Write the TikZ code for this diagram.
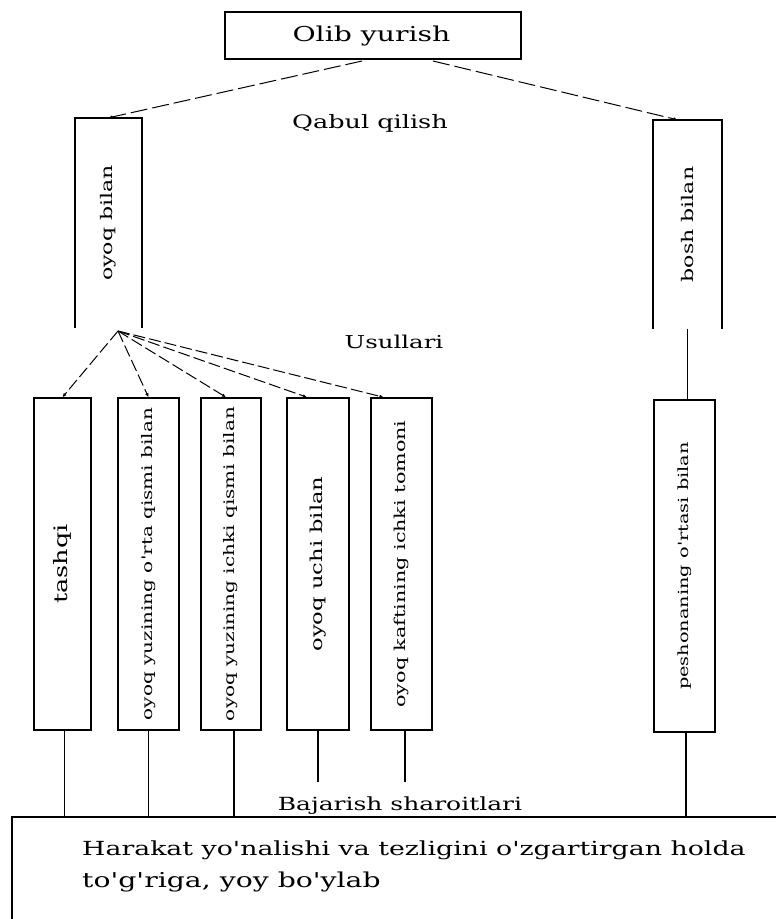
\documentclass[tikz,border=0pt]{standalone}
\usepackage{fontspec}
\setmainfont[FakeStretch=1.38, Ligatures=TeXOff]{DejaVu Serif}
\usetikzlibrary{arrows.meta}
\begin{document}
\begin{tikzpicture}[x=1pt,y=-1pt,
  boxline/.style={line width=1.6pt},
  frame/.style={draw, boxline, inner sep=0pt},
  openbox/.style={inner sep=0pt},
  toplabel/.style={font=\fontsize{19}{24}\selectfont, inner sep=0pt, anchor=base},
  dashlink/.style={line width=1pt, dash pattern=on 17pt off 5pt, -{Latex[length=4pt,width=3.5pt]}},
  fanlink/.style={line width=1pt, dash pattern=on 12pt off 4pt, -{Latex[length=4pt,width=3.5pt]}},
  solidlink/.style={line width=1.2pt}
]
\useasboundingbox (0,0) rectangle (776,919);
\clip (0,0) rectangle (776,919);

% top
\node[frame, minimum width=296pt, minimum height=47pt] (top) at (373,35.5) {};
\node[toplabel, font=\fontsize{20.5}{24}\selectfont] (toptxt) at (371.5,41) {Olib yurish};

% first level (open bottom)
\node[openbox, minimum width=67pt, minimum height=210pt] (oyoq) at (108.5,223) {\rotatebox{90}{\fontsize{16}{18}\selectfont oyoq bilan}};
\node[openbox, minimum width=69pt, minimum height=209pt] (bosh) at (687.5,224.5) {\rotatebox{90}{\fontsize{16}{18}\selectfont bosh bilan}};
\draw[boxline] (oyoq.south west) -- (oyoq.north west) -- (oyoq.north east) -- (oyoq.south east);
\draw[boxline] (bosh.south west) -- (bosh.north west) -- (bosh.north east) -- (bosh.south east);

\node[toplabel, font=\fontsize{18.5}{24}\selectfont] (qabul) at (370,128) {Qabul qilish};
\node[toplabel, font=\fontsize{17.7}{24}\selectfont] (usul) at (394,348) {Usullari};

\coordinate (tl) at (362,61);
\coordinate (tr) at (433,61);
\draw[dashlink] (tl) -- (oyoq.north);
\draw[dashlink] (tr) -- ([xshift=-10pt]bosh.north);

% second level
\node[frame, minimum width=57pt, minimum height=332pt] (b1) at (62.5,564) {\rotatebox{90}{\fontsize{18.5}{18}\selectfont tashqi}};
\node[frame, minimum width=61pt, minimum height=332pt] (b2) at (148.5,564) {\rotatebox{90}{\fontsize{14.5}{18}\selectfont oyoq yuzining o'rta qismi bilan}};
\node[frame, minimum width=60pt, minimum height=332pt] (b3) at (231,564) {\rotatebox{90}{\fontsize{14.5}{18}\selectfont oyoq yuzining ichki qismi bilan}};
\node[frame, minimum width=62pt, minimum height=332pt] (b4) at (318,564) {\rotatebox{90}{\fontsize{16.4}{18}\selectfont oyoq uchi bilan}};
\node[frame, minimum width=61pt, minimum height=332pt] (b5) at (401.5,564) {\rotatebox{90}{\fontsize{15}{18}\selectfont oyoq kaftining ichki tomoni}};
\node[frame, minimum width=61pt, minimum height=332pt] (b6) at (684.5,566) {\rotatebox{90}{\fontsize{14}{18}\selectfont peshonaning o'rtasi bilan}};

\coordinate (fan) at (118,331);
\draw[fanlink] (fan) -- (b1.north);
\draw[fanlink] (fan) -- (b2.north);
\draw[fanlink] (fan) -- ([xshift=-5pt]b3.north);
\draw[fanlink] (fan) -- ([xshift=-11pt]b4.north);
\draw[fanlink] (fan) -- ([xshift=-18pt]b5.north);

\draw[solidlink] (bosh.south) -- (bosh.south |- b6.north);

% bottom
\node[draw, line width=1.2pt, inner sep=0pt, minimum width=788pt, minimum height=123pt] (cond) at (406,878.5) {};
\node[toplabel, font=\fontsize{18.1}{24}\selectfont] (bajar) at (400,810) {Bajarish sharoitlari};
\node[toplabel, anchor=base west, font=\fontsize{19.4}{24}\selectfont] (h1) at (82,855) {Harakat yo'nalishi va tezligini o'zgartirgan holda};
\node[toplabel, anchor=base west, font=\fontsize{20.5}{24}\selectfont] (h2) at (82,887) {to'g'riga, yoy bo'ylab};

\coordinate (e4) at (318,782);
\coordinate (e5) at (405,782);
\draw[solidlink] ([xshift=2pt]b1.south) -- ([xshift=2pt]b1.south |- cond.north);
\draw[solidlink] (b2.south) -- (b2.south |- cond.north);
\draw[solidlink] ([xshift=3pt]b3.south) -- ([xshift=3pt]b3.south |- cond.north);
\draw[solidlink] (b4.south) -- (e4);
\draw[solidlink] ([xshift=3.5pt]b5.south) -- (e5);
\draw[solidlink] ([xshift=1.5pt]b6.south) -- ([xshift=1.5pt]b6.south |- cond.north);
\end{tikzpicture}
\end{document}
